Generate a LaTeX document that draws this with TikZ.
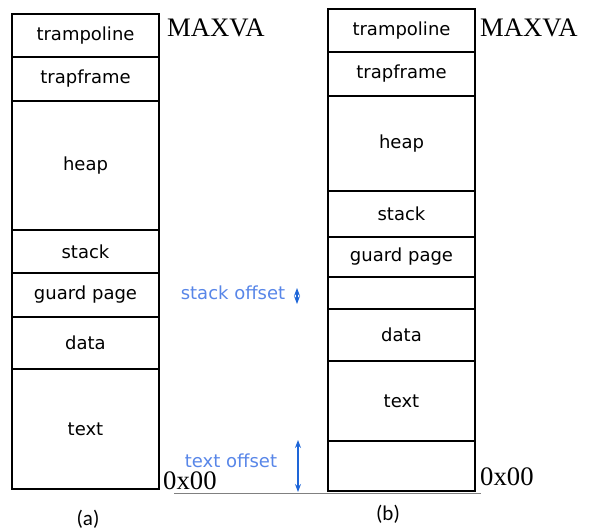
\documentclass[tikz,border=0pt]{standalone}
\usepackage{fontspec}
\setmainfont{DejaVu Sans}
\newfontfamily\timesfont{Liberation Serif}
\newfontfamily\capfont{Carlito}
\usetikzlibrary{arrows.meta}
\definecolor{offsettext}{RGB}{88,134,232}
\definecolor{offsetarrow}{RGB}{30,102,216}

\begin{document}
\begin{tikzpicture}[x=1pt, y=-1pt, font=\fontsize{18}{21}\selectfont,
    seg/.style={draw, line width=1.3pt, minimum width=147pt, inner sep=0pt, outer sep=0pt, anchor=north},
    segb/.style={seg, line width=1.8pt},
    addr/.style={font=\fontsize{26.7}{30}\timesfont, inner sep=0pt, anchor=base west},
    offset/.style={text=offsettext, inner sep=0pt},
    offarrow/.style={draw=offsetarrow, line width=1.2pt, {Stealth[length=8pt,width=6pt]}-{Stealth[length=8pt,width=6pt]}},
    capt/.style={font=\fontsize{21}{24}\capfont}]
\useasboundingbox (0,0) rectangle (590,531);

% (a)
\node[seg, minimum height=43pt]  (la1) at (85.5,14) {trampoline};
\node[seg, minimum height=44pt]  (la2) at (la1.south) {trapframe};
\node[seg, minimum height=129pt] (la3) at (la2.south) {heap};
\node[seg, minimum height=43pt]  (la4) at (la3.south) {stack};
\node[seg, minimum height=44pt]  (la5) at (la4.south) {guard page};
\node[seg, minimum height=52pt]  (la6) at (la5.south) {data};
\node[seg, minimum height=120pt] (la7) at (la6.south) {text};

% (b)
\node[segb, minimum height=43pt] (rb1) at (401.5,9) {trampoline};
\node[segb, minimum height=44pt] (rb2) at (rb1.south) {trapframe};
\node[segb, minimum height=95pt] (rb3) at (rb2.south) {heap};
\node[segb, minimum height=46pt] (rb4) at (rb3.south) {stack};
\node[segb, minimum height=40pt] (rb5) at (rb4.south) {guard page};
\node[segb, minimum height=32pt] (rb6) at (rb5.south) {};
\node[segb, minimum height=52pt] (rb7) at (rb6.south) {data};
\node[segb, minimum height=80pt] (rb8) at (rb7.south) {text};
\node[segb, minimum height=50pt] (rb9) at (rb8.south) {};

\node[addr] (maxa) at (167,36) {MAXVA};
\node[addr] (zeroa) at (163,489) {0x00};
\node[addr] (maxb) at (480,36) {MAXVA};
\node[addr] (zerob) at (480,485) {0x00};

% base line
\coordinate (basel) at (174,493);
\coordinate (baser) at (481,493);
\draw[gray, line width=1pt] (basel) -- (baser);

% offsets
\node[offset] (soff) at (233,293) {stack offset};
\coordinate (stop) at (297,288);
\coordinate (sbot) at (297,304);
\draw[offarrow] (stop) -- (sbot);
\node[offset] (toff) at (231,461) {text offset};
\coordinate (ttop) at (298,440);
\coordinate (tbot) at (298,492);
\draw[offarrow] (ttop) -- (tbot);

\node[capt] (capa) at (88,519) {(a)};
\node[capt] (capb) at (388,514) {(b)};
\end{tikzpicture}
\end{document}
